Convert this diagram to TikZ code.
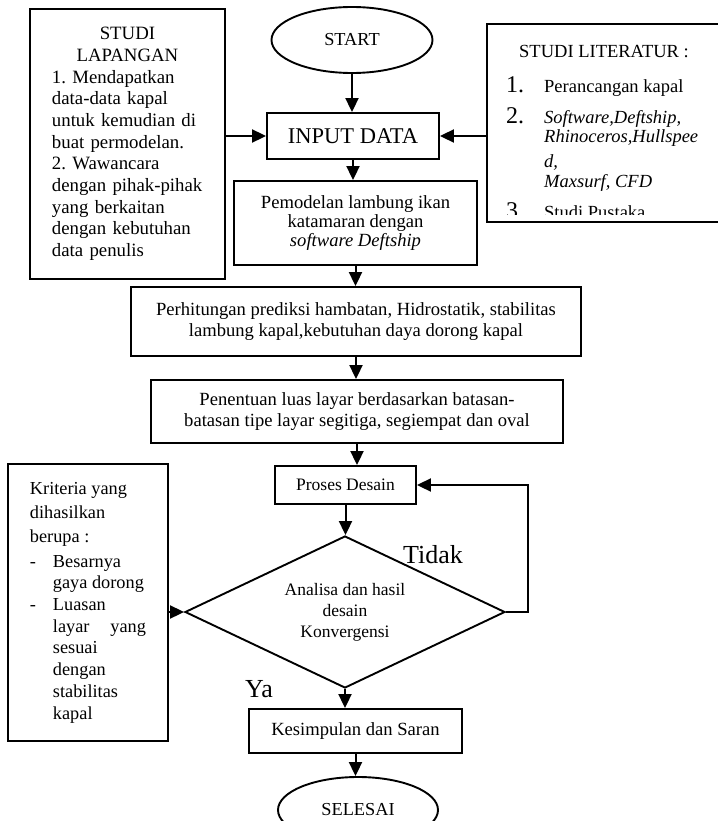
\documentclass[tikz,border=0pt]{standalone}
\usepackage{fontspec}
\setmainfont{Liberation Serif}
\usetikzlibrary{shapes.geometric,arrows.meta}
\newcommand{\setfs}[2]{\fontsize{#1}{#2}\selectfont}
\frenchspacing
\tikzset{
  box/.style={draw, line width=1.9pt, rectangle, inner sep=0pt, align=center},
  oval/.style={draw, line width=1.9pt, ellipse, inner sep=0pt},
  decide/.style={draw, line width=1.9pt, diamond, aspect=2.1, inner sep=0pt, align=center},
  arr/.style={line width=2pt, -{Triangle[length=14pt,width=13pt]}},
  lbl/.style={anchor=base west, inner sep=0pt, font=\setfs{26}{30}}
}

\begin{document}
\begin{tikzpicture}[x=1pt,y=-1pt]
    \useasboundingbox (0,0) rectangle (717,821);
    % main flow
    \node[oval, minimum width=161pt, minimum height=66pt, font=\setfs{18.3}{21}] (start) at (352,40) {START};
    \node[box, minimum width=172pt, minimum height=46pt, font=\setfs{22.5}{26}] (input) at (353,136) {INPUT DATA};
    \node[box, minimum width=243pt, minimum height=84pt, font=\setfs{18.6}{18.6}] (model) at (355.5,223)
        {Pemodelan lambung ikan\\katamaran dengan\\\textit{software Deftship}};
    \node[box, minimum width=450pt, minimum height=69pt, font=\setfs{18.6}{21.7}] (hitung) at (356,321.5)
        {Perhitungan prediksi hambatan, Hidrostatik, stabilitas\\lambung kapal,kebutuhan daya dorong kapal};
    \node[box, minimum width=412pt, minimum height=63pt, font=\setfs{18.6}{21.7}] (luas) at (357,411.5)
        {Penentuan luas layar berdasarkan batasan-\\batasan tipe layar segitiga, segiempat dan oval};
    \node[box, minimum width=141pt, minimum height=38pt, font=\setfs{17.5}{20}] (proses) at (345.5,485) {Proses Desain};
    \node[decide, minimum width=320pt, minimum height=152pt, font=\setfs{17.5}{21}] (dia) at (345,612)
        {Analisa dan hasil\\desain\\Konvergensi};
    \node[box, minimum width=213pt, minimum height=44pt, font=\setfs{18.6}{21.7}] (kes) at (355.5,731) {Kesimpulan dan Saran};
    \node[oval, minimum width=160pt, minimum height=66pt, font=\setfs{18.3}{21}] (end) at (358,810) {SELESAI};

    % side boxes
    \node[box, anchor=north west, minimum width=195pt, minimum height=270pt, text width=151pt, align=left,
          font=\setfs{18.8}{21.7}] (lap) at (29,8)
        {\centering STUDI\\LAPANGAN\par\raggedright
         1. Mendapatkan\\data-data kapal\\untuk kemudian di\\buat permodelan.\\2. Wawancara\\
         dengan pihak-pihak\\yang berkaitan\\dengan kebutuhan\\data penulis};

    \node[box, anchor=north west, minimum width=250pt, minimum height=198pt] (lit) at (486,23) {};
    \begin{scope}
        \clip (lit.north west) rectangle ([yshift=8pt]lit.south east);
        \node[anchor=north west, inner sep=0pt, font=\setfs{18.5}{20}] (littext) at (506,43)
            {\begin{tabular}{@{}p{38pt}@{}l@{}}
             \multicolumn{2}{@{}l@{}}{\hspace{13pt}STUDI LITERATUR :}\\[13pt]
             {\setfs{24}{20}1.} & Perancangan kapal\\[10pt]
             {\setfs{24}{20}2.} & \textit{Software,Deftship,}\\[-1pt]
              & \textit{Rhinoceros,Hullspee}\\[5pt]
              & \textit{d,}\\
              & \textit{Maxsurf, CFD}\\[9pt]
             {\setfs{24}{20}3.} & Studi Pustaka
             \end{tabular}};
    \end{scope}

    \node[box, anchor=north west, minimum width=160pt, minimum height=277pt, font=\setfs{18.3}{21.7}] (krit) at (7,463)
        {\begin{tabular}{@{}p{23pt}@{}p{93pt}@{}}
         \multicolumn{2}{@{}l@{}}{Kriteria yang}\\[2.5pt]
         \multicolumn{2}{@{}l@{}}{dihasilkan}\\[2.5pt]
         \multicolumn{2}{@{}l@{}}{berupa :}\\[2.5pt]
         - & Besarnya\\
           & gaya dorong\\
         - & Luasan\\
           & layar\hfill yang\\
           & sesuai\\
           & dengan\\
           & stabilitas\\
           & kapal
         \end{tabular}};

    % labels
    \node[lbl] (tidak) at (403,563) {Tidak};
    \node[lbl] (ya) at (245,697) {Ya};

    % connectors
    \foreach \a/\b in {start/input, input/model, model/hitung, hitung/luas, luas/proses, proses/dia, dia/kes, kes/end}
        \draw[arr] (\a.south) -- (\a.south |- \b.north);
    \draw[arr] (lap.east |- input) -- (input.west);
    \draw[arr] (lit.west |- input) -- (input.east);
    \draw[arr] (krit.east |- dia) -- (dia.west);
    \draw[arr] (dia.east) -- ++(22,0) |- (proses.east);
\end{tikzpicture}
\end{document}
